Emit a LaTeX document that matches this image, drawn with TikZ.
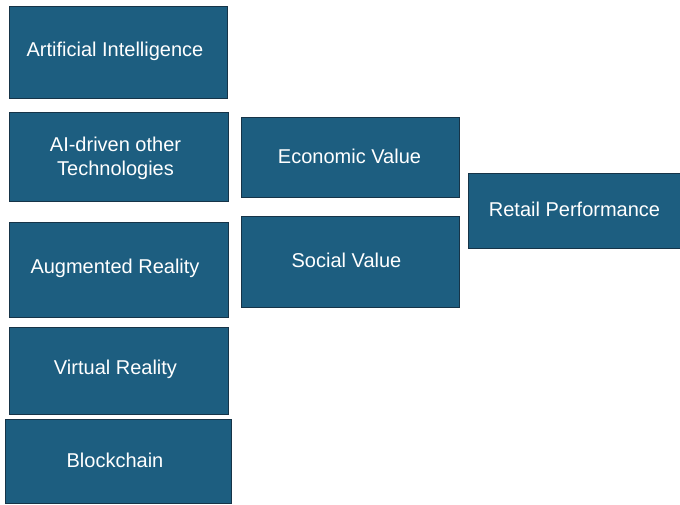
\documentclass[tikz,border=0pt]{standalone}
\usepackage{fontspec}
\setmainfont{Liberation Sans}
\definecolor{boxfill}{RGB}{29,94,128}
\definecolor{boxedge}{RGB}{22,52,72}
\begin{document}
\begin{tikzpicture}[x=1pt,y=-1pt,
  block/.style={draw=boxedge,line width=1pt,fill=boxfill,inner sep=0pt},
  caption/.style={text=white,inner sep=0pt,align=center,
    font=\fontsize{20}{24}\selectfont}]
\useasboundingbox (0,0) rectangle (680,504);
% left column: technologies
\node[block,minimum width=218pt,minimum height=92pt] (ai) at (118,52) {};
\node[block,minimum width=219pt,minimum height=89pt] (aio) at (118.5,156.5) {};
\node[block,minimum width=219pt,minimum height=95pt] (ar) at (118.5,269.5) {};
\node[block,minimum width=219pt,minimum height=87pt] (vr) at (118.5,370.5) {};
\node[block,minimum width=226pt,minimum height=84pt] (bc) at (118,461) {};
% middle column: value dimensions
\node[block,minimum width=218pt,minimum height=80pt] (ev) at (350,157) {};
\node[block,minimum width=218pt,minimum height=91pt] (sv) at (350,261.5) {};
% right: outcome
\node[block,minimum width=212pt,minimum height=75pt] (rp) at (574,210.5) {};
% captions
\node[caption] (ai-t) at ([xshift=-3pt,yshift=1pt]ai.center) {Artificial Intelligence};
\node[caption] (aio-t) at ([xshift=-3pt,yshift=-2pt]aio.center) {AI-driven other\\Technologies};
\node[caption] (ar-t) at ([xshift=-3.5pt,yshift=1pt]ar.center) {Augmented Reality};
\node[caption] (vr-t) at ([xshift=-3pt,yshift=1pt]vr.center) {Virtual Reality};
\node[caption] (bc-t) at ([xshift=-3pt,yshift=1pt]bc.center) {Blockchain};
\node[caption] (ev-t) at ([xshift=-0.5pt,yshift=1pt]ev.center) {Economic Value};
\node[caption] (sv-t) at ([xshift=-3.5pt,yshift=1pt]sv.center) {Social Value};
\node[caption] (rp-t) at ([xshift=0.5pt,yshift=1pt]rp.center) {Retail Performance};
\end{tikzpicture}
\end{document}
